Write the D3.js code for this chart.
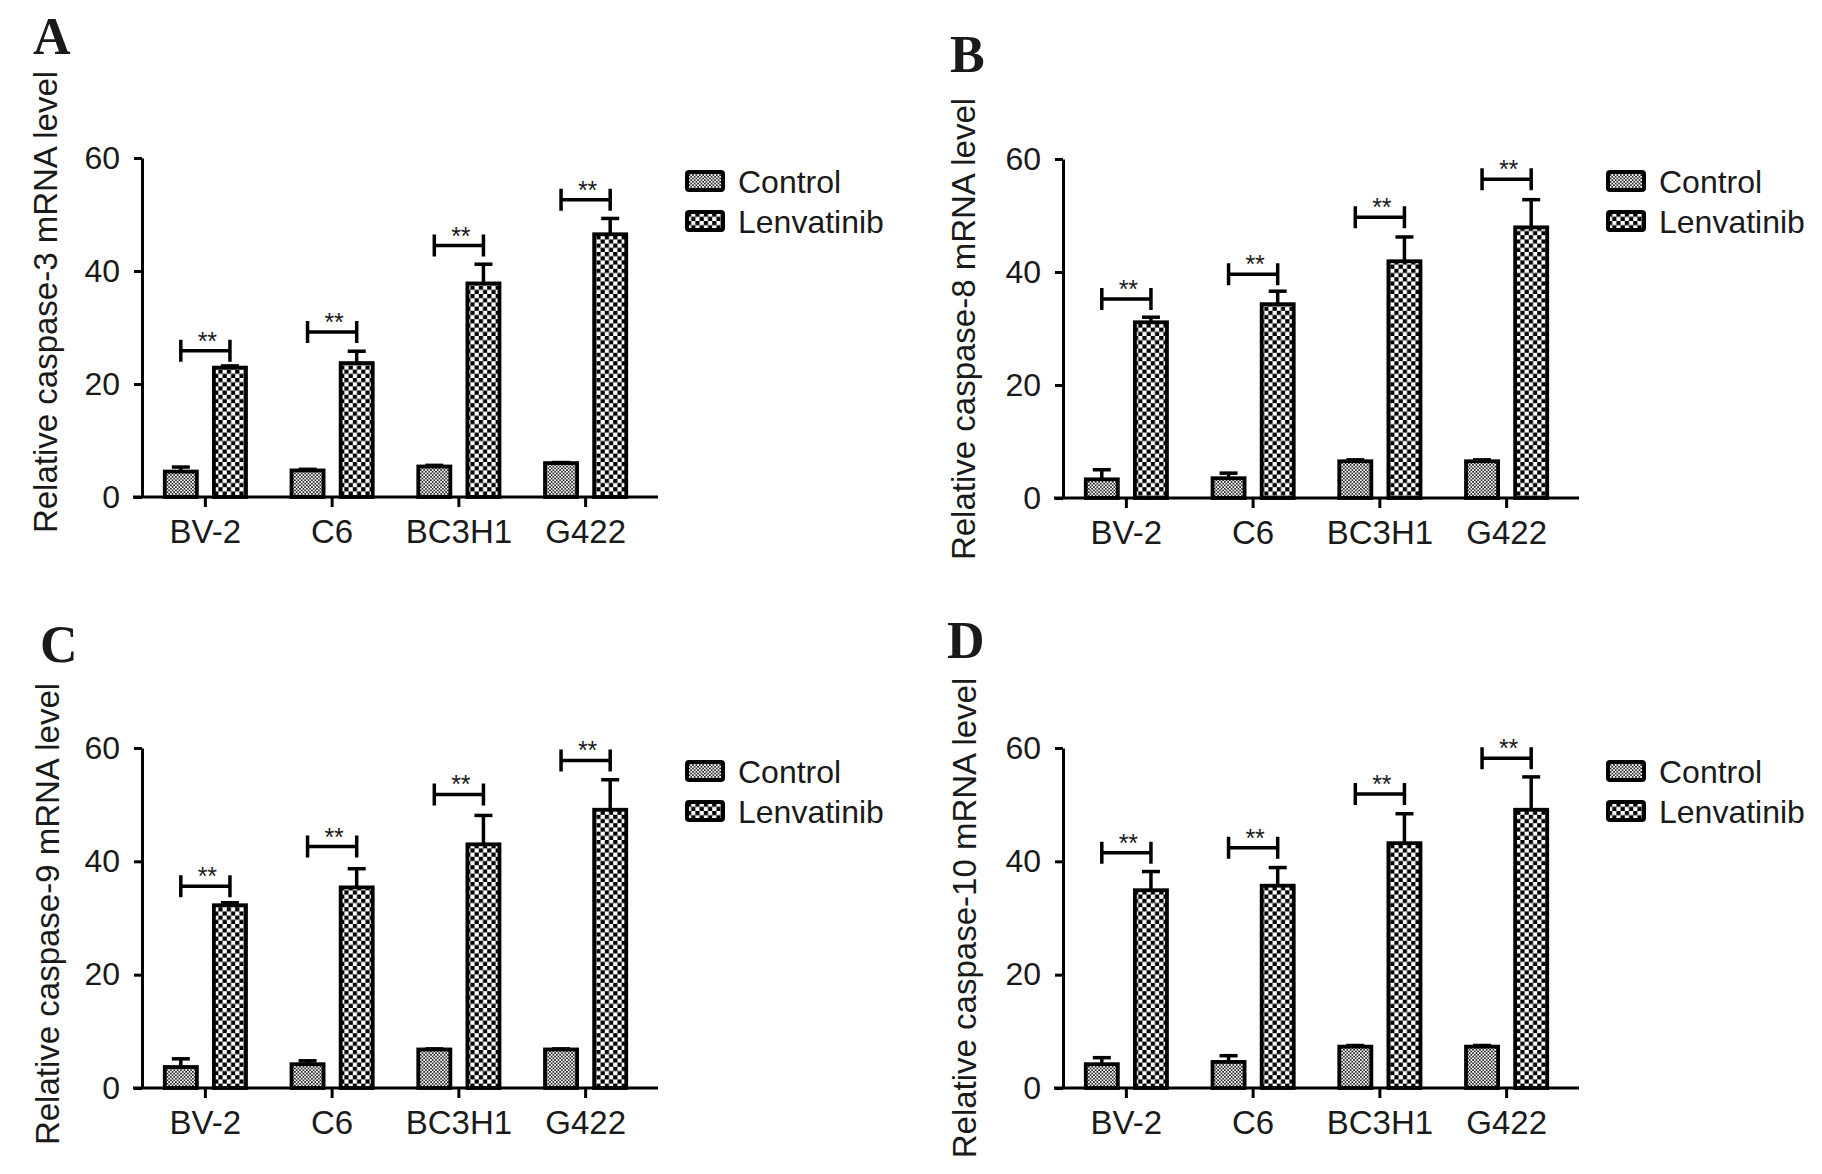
<!DOCTYPE html>
<html lang="en">
  <head>
    <meta charset="utf-8">
    <title>Caspase mRNA levels</title>
    <script type="text/javascript" src="https://cdnjs.cloudflare.com/ajax/libs/d3/7.8.5/d3.min.js"></script>
    <style>
      body { margin: 0; background: #fff; }
      text { font-family: "Liberation Sans", Arial, sans-serif; fill: #1a1a1a; }
      .letter { font-family: "Liberation Serif", "Times New Roman", serif; font-weight: bold; }
    </style>
  </head>
  <body>
    <div id="chartDiv"></div>
    <script>
      var categories = ["BV-2", "C6", "BC3H1", "G422"];
      var series = ["Control", "Lenvatinib"];
      var yTicks = [0, 20, 40, 60];
      var letters = ["A", "B", "C", "D"];
      var yTitles = [
        "Relative caspase-3 mRNA level",
        "Relative caspase-8 mRNA level",
        "Relative caspase-9 mRNA level",
        "Relative caspase-10 mRNA level"
      ];

      // means / error (SD) / bracket height
      var ctrlA = [4.5, 4.7, 5.4, 6.0],  ctrlErrA = [0.8, 0.2, 0.2, 0.1];
      var lenvA = [22.9, 23.7, 37.8, 46.5], lenvErrA = [0.3, 2.1, 3.4, 2.8];
      var sigA  = [25.9, 29.2, 44.5, 52.6];

      var ctrlB = [3.3, 3.5, 6.5, 6.5],  ctrlErrB = [1.7, 0.9, 0.25, 0.25];
      var lenvB = [31.1, 34.3, 41.9, 47.9], lenvErrB = [0.9, 2.3, 4.3, 4.9];
      var sigB  = [35.2, 39.6, 49.7, 56.4];

      var ctrlC = [3.7, 4.2, 6.8, 6.8],  ctrlErrC = [1.45, 0.6, 0.1, 0.1];
      var lenvC = [32.25, 35.4, 43.0, 49.1], lenvErrC = [0.45, 3.3, 5.1, 5.3];
      var sigC  = [35.6, 42.6, 51.8, 57.8];

      var ctrlD = [4.2, 4.6, 7.3, 7.3],  ctrlErrD = [1.15, 1.1, 0.2, 0.2];
      var lenvD = [34.9, 35.7, 43.2, 49.1], lenvErrD = [3.3, 3.2, 5.2, 5.8];
      var sigD  = [41.5, 42.4, 51.9, 58.2];

      var ctrlAll = [ctrlA, ctrlB, ctrlC, ctrlD];
      var ctrlErrAll = [ctrlErrA, ctrlErrB, ctrlErrC, ctrlErrD];
      var lenvAll = [lenvA, lenvB, lenvC, lenvD];
      var lenvErrAll = [lenvErrA, lenvErrB, lenvErrC, lenvErrD];
      var sigAll = [sigA, sigB, sigC, sigD];

      // panel placement (pixels)
      var layout = [
        {ox: 142,  y0: 497,  y60: 158, lx: 33,  ly: 54,  tx: 57,  ty: 302, legY: 181},
        {ox: 1063, y0: 498,  y60: 159, lx: 950, ly: 72,  tx: 975, ty: 329, legY: 181},
        {ox: 142,  y0: 1088, y60: 748, lx: 40,  ly: 662, tx: 59,  ty: 914, legY: 771},
        {ox: 1063, y0: 1088, y60: 748, lx: 947, ly: 658, tx: 976, ty: 918, legY: 771}
      ];

      var W = 1822, H = 1174;
      var sw = 3.8;

      var svg = d3.select("#chartDiv")
          .append("svg")
          .attr("width", W)
          .attr("height", H);

      svg.append("rect").attr("width", W).attr("height", H).attr("fill", "#fff");

      var defs = svg.append("defs");
      var fine = defs.append("pattern")
          .attr("id", "fineCheck")
          .attr("patternUnits", "userSpaceOnUse")
          .attr("width", 3.4).attr("height", 3.4);
      fine.append("rect").attr("width", 3.4).attr("height", 3.4).attr("fill", "#2b2b2b");
      fine.append("rect").attr("width", 1.7).attr("height", 1.7).attr("fill", "#fff");
      fine.append("rect").attr("x", 1.7).attr("y", 1.7).attr("width", 1.7).attr("height", 1.7).attr("fill", "#fff");

      var cell = 4.2;
      var coarse = defs.append("pattern")
          .attr("id", "coarseCheck")
          .attr("patternUnits", "userSpaceOnUse")
          .attr("width", 2 * cell).attr("height", 2 * cell);
      coarse.append("rect").attr("width", 2 * cell).attr("height", 2 * cell).attr("fill", "#fff");
      coarse.append("rect").attr("width", cell).attr("height", cell).attr("fill", "#000");
      coarse.append("rect").attr("x", cell).attr("y", cell).attr("width", cell).attr("height", cell).attr("fill", "#000");

      var fills = {"Control": "url(#fineCheck)", "Lenvatinib": "url(#coarseCheck)"};

      layout.forEach(function(L, p) {
        var g = svg.append("g");

        var y = d3.scaleLinear().domain([0, 60]).range([L.y0, L.y60]);
        var x0 = d3.scaleBand().domain(categories).range([L.ox, L.ox + 507]);
        var x1 = d3.scaleBand().domain(series).range([-42.5, 42.5]).paddingInner(0.27);
        var center = function(c) { return x0(c) + x0.bandwidth() / 2; };
        var barMid = function(c, s) { return center(c) + x1(s) + x1.bandwidth() / 2; };

        var rows = [];
        categories.forEach(function(c, i) {
          rows.push({cat: c, s: "Control", v: ctrlAll[p][i], e: ctrlErrAll[p][i]});
          rows.push({cat: c, s: "Lenvatinib", v: lenvAll[p][i], e: lenvErrAll[p][i]});
        });

        // error bars (upper half only shows)
        g.selectAll("line.err")
         .data(rows)
         .enter()
         .append("line")
         .attr("class", "err")
         .attr("x1", function(d) { return barMid(d.cat, d.s); })
         .attr("x2", function(d) { return barMid(d.cat, d.s); })
         .attr("y1", function(d) { return y(d.v); })
         .attr("y2", function(d) { return y(d.v + d.e); })
         .attr("stroke", "#000").attr("stroke-width", 3.5);

        g.selectAll("line.cap")
         .data(rows)
         .enter()
         .append("line")
         .attr("class", "cap")
         .attr("x1", function(d) { return barMid(d.cat, d.s) - 9; })
         .attr("x2", function(d) { return barMid(d.cat, d.s) + 9; })
         .attr("y1", function(d) { return y(d.v + d.e); })
         .attr("y2", function(d) { return y(d.v + d.e); })
         .attr("stroke", "#000").attr("stroke-width", 3.5);

        // bars
        g.selectAll("rect.bar")
         .data(rows)
         .enter()
         .append("rect")
         .attr("class", "bar")
         .attr("x", function(d) { return center(d.cat) + x1(d.s) + sw / 2; })
         .attr("width", x1.bandwidth() - sw)
         .attr("y", function(d) { return y(d.v); })
         .attr("height", function(d) { return L.y0 - y(d.v); })
         .attr("fill", function(d) { return fills[d.s]; })
         .attr("stroke", "#000")
         .attr("stroke-width", sw);

        // significance brackets
        var sig = g.selectAll("g.sig")
         .data(categories)
         .enter()
         .append("g")
         .attr("class", "sig");
        sig.append("path")
         .attr("d", function(c, i) {
           var yy = y(sigAll[p][i]);
           var a = barMid(c, "Control"), b = barMid(c, "Lenvatinib");
           return "M" + a + "," + (yy - 11) + "V" + (yy + 11) +
                  "M" + a + "," + yy + "H" + b +
                  "M" + b + "," + (yy - 11) + "V" + (yy + 11);
         })
         .attr("fill", "none").attr("stroke", "#000").attr("stroke-width", 3.5);
        sig.append("text")
         .attr("x", function(c) { return center(c) + 2; })
         .attr("y", function(c, i) { return y(sigAll[p][i]) - 1; })
         .attr("text-anchor", "middle")
         .attr("font-size", "25px")
         .text("**");

        // y axis
        var yAxis = d3.axisLeft(y).tickValues(yTicks).tickSize(8).tickSizeOuter(0).tickPadding(14);
        var ya = g.append("g")
         .attr("transform", "translate(" + L.ox + ",0)")
         .call(yAxis);
        ya.selectAll("path, line").attr("stroke", "#000").attr("stroke-width", 3);
        ya.selectAll("text").attr("font-size", "32px").attr("fill", "#1a1a1a");

        // x axis
        var xAxis = d3.axisBottom(x0).tickSize(10).tickSizeOuter(0).tickPadding(13);
        var xa = g.append("g")
         .attr("transform", "translate(0," + L.y0 + ")")
         .call(xAxis);
        xa.select(".domain").remove();
        xa.append("line")
         .attr("x1", L.ox - 9).attr("x2", L.ox + 516)
         .attr("stroke", "#000").attr("stroke-width", 3);
        xa.selectAll("line").attr("stroke", "#000").attr("stroke-width", 3);
        xa.selectAll("text").attr("font-size", "33px").attr("fill", "#1a1a1a");

        // y title
        g.append("text")
         .attr("transform", "translate(" + L.tx + "," + L.ty + ") rotate(-90)")
         .attr("text-anchor", "middle")
         .attr("font-size", "33px")
         .text(yTitles[p]);

        // panel letter
        g.append("text")
         .attr("class", "letter")
         .attr("x", L.lx).attr("y", L.ly)
         .attr("font-size", "52px")
         .text(letters[p]);

        // legend
        var leg = g.selectAll("g.leg")
         .data(series)
         .enter()
         .append("g")
         .attr("class", "leg")
         .attr("transform", function(d, j) {
           return "translate(" + (L.ox + 545) + "," + (L.legY + j * 40) + ")";
         });
        leg.append("rect")
         .attr("x", 0).attr("y", -9)
         .attr("width", 36).attr("height", 18)
         .attr("rx", 2)
         .attr("fill", function(d) { return fills[d]; })
         .attr("stroke", "#000").attr("stroke-width", 4);
        leg.append("text")
         .attr("x", 51).attr("y", 12)
         .attr("font-size", "32px")
         .text(function(d) { return d; });
      });
    </script>
  </body>
</html>
